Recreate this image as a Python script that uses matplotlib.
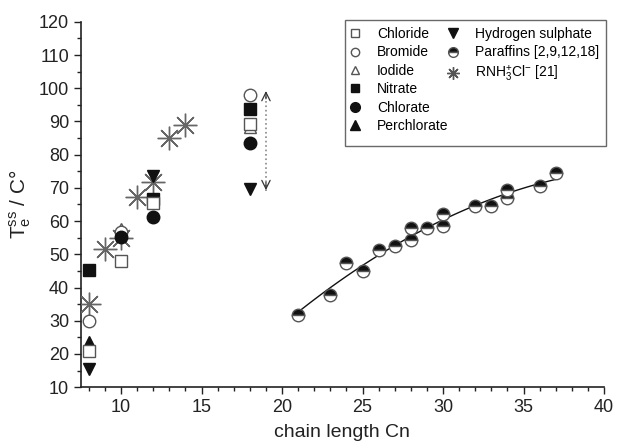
import numpy as np
import matplotlib
matplotlib.use('Agg')
import matplotlib.pyplot as plt
from matplotlib.lines import Line2D

plt.rcParams['font.family'] = ['Liberation Sans', 'DejaVu Sans']
plt.rcParams['mathtext.fontset'] = 'custom'
plt.rcParams['mathtext.rm'] = 'Liberation Sans'
plt.rcParams['mathtext.it'] = 'Liberation Sans'

# 데이터
chloride_c = [8, 10, 12, 18]
chloride_t = [21.0, 48.0, 65.5, 89.2]
bromide_c = [8, 10, 18]
bromide_t = [29.8, 56.8, 98.0]
iodide_c = [10, 18]
iodide_t = [57.5, 88.3]
nitrate_c = [8, 12, 18]
nitrate_t = [45.2, 66.8, 93.7]
chlorate_c = [10, 12, 18]
chlorate_t = [55.3, 61.3, 83.5]
perchlorate_c = [8]
perchlorate_t = [23.5]
hs_c = [8, 12, 18]
hs_t = [15.6, 73.5, 69.8]
amine_c = [8, 9, 10, 11, 12, 13, 14]
amine_t = [35.0, 51.6, 54.8, 67.2, 71.7, 85.1, 88.9]
paraffin_c = [21, 23, 24, 25, 26, 27, 28, 28, 29, 30, 30, 32, 33, 34, 34, 36, 37]
paraffin_t = [31.8, 37.8, 47.4, 45.0, 51.2, 52.4, 57.9, 54.2, 57.9, 58.4, 62.0,
              64.5, 64.5, 69.5, 67.0, 70.5, 74.5]

fig = plt.figure(figsize=(6.17, 4.46), dpi=100)
ax = fig.add_axes([0.131, 0.132, 0.848, 0.819])

ms = 9
dark = '#111111'
grey = '#555555'

# 파라핀 피팅 곡선
coef = np.polyfit(paraffin_c, paraffin_t, 2)
xx = np.linspace(min(paraffin_c), max(paraffin_c), 100)
ax.plot(xx, np.polyval(coef, xx), color=dark, lw=1.0, zorder=2)

ax.plot(amine_c, amine_t, ls='none', marker=(8, 2, 0), ms=17, mew=1.0,
        mec='#666666', zorder=3)

ax.plot(iodide_c, iodide_t, ls='none', marker='^', ms=ms, mfc='white', mec=grey, mew=1.0, zorder=4)
ax.plot(nitrate_c, nitrate_t, ls='none', marker='s', ms=ms - 1, mfc=dark, mec=dark, zorder=4)
ax.plot(chloride_c, chloride_t, ls='none', marker='s', ms=ms - 1, mfc='white', mec=grey, mew=1.0, zorder=5)
ax.plot(bromide_c, bromide_t, ls='none', marker='o', ms=ms, mfc='white', mec=grey, mew=1.0, zorder=4)
ax.plot(chlorate_c, chlorate_t, ls='none', marker='o', ms=ms, mfc=dark, mec=dark, zorder=5)
ax.plot(perchlorate_c, perchlorate_t, ls='none', marker='^', ms=ms, mfc=dark, mec=dark, zorder=4)
ax.plot(hs_c, hs_t, ls='none', marker='v', ms=ms, mfc=dark, mec=dark, zorder=4)
ax.plot(paraffin_c, paraffin_t, ls='none', marker='o', ms=ms, fillstyle='top',
        mfc=dark, mfcalt='white', mec=grey, mew=1.0, zorder=6)

# 점선 화살표
ax.plot([19, 19], [69, 99.5], color='#888888', ls=':', lw=1.2)
ax.annotate('', xy=(19, 100), xytext=(19, 96),
            arrowprops=dict(arrowstyle='->', color='#333333', lw=0.9, mutation_scale=15))
ax.annotate('', xy=(19, 68.5), xytext=(19, 72.5),
            arrowprops=dict(arrowstyle='->', color='#333333', lw=0.9, mutation_scale=15))

ax.set_xlim(7.5, 40)
ax.set_ylim(10, 120)
ax.set_xticks(np.arange(10, 41, 5))
ax.set_xticks(np.arange(8, 41, 1), minor=True)
ax.set_yticks(np.arange(10, 121, 10))
ax.set_yticks(np.arange(15, 120, 10), minor=True)
ax.tick_params(direction='out', labelsize=13, length=5, width=1.0, colors='#222222')
ax.tick_params(which='minor', direction='out', length=3, width=1.0, colors='#222222')
for s in ['top', 'right']:
    ax.spines[s].set_visible(False)
for s in ['left', 'bottom']:
    ax.spines[s].set_linewidth(1.2)
    ax.spines[s].set_color('#222222')

ax.set_xlabel('chain length Cn', fontsize=14, color='#222222', labelpad=6)
ax.set_ylabel(r'T$_{e}^{ss}$ / C°', fontsize=15, color='#222222', labelpad=4)

# 범례
def h(**kw):
    return Line2D([], [], ls='none', **kw)

handles = [
    h(marker='s', ms=6, mfc='white', mec=grey),
    h(marker='o', ms=6, mfc='white', mec=grey),
    h(marker='^', ms=6, mfc='white', mec=grey),
    h(marker='s', ms=6, mfc=dark, mec=dark),
    h(marker='o', ms=7, mfc=dark, mec=dark),
    h(marker='^', ms=7, mfc=dark, mec=dark),
    h(marker='v', ms=7, mfc=dark, mec=dark),
    h(marker='o', ms=7, fillstyle='top', mfc=dark, mfcalt='white', mec=grey),
    h(marker=(8, 2, 0), ms=9, mec=grey, mew=1.0),
    h(marker=''), h(marker=''), h(marker=''),
]
labels = ['Chloride', 'Bromide', 'Iodide', 'Nitrate', 'Chlorate', 'Perchlorate',
          'Hydrogen sulphate', 'Paraffins [2,9,12,18]', r'RNH$_3^{+}$Cl$^{-}$ [21]', '', '', '']
fig.legend(handles, labels, loc='upper left', bbox_to_anchor=(345 / 617, 1 - 20 / 446),
           ncol=2, fontsize=10, frameon=True, fancybox=False, edgecolor='#444444',
           handlelength=0.5, handletextpad=1.3, columnspacing=0.1, labelspacing=0.32,
           borderpad=0.5, borderaxespad=0)

fig.savefig('out.png', dpi=100)
